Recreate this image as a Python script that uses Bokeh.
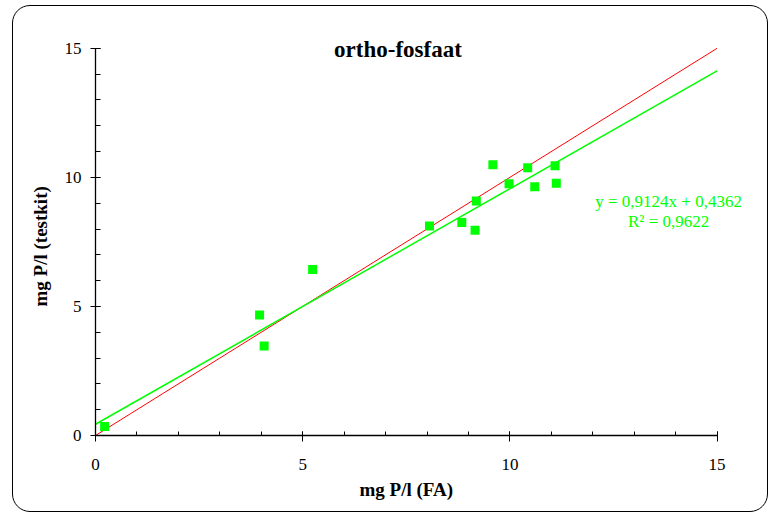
from bokeh.plotting import figure
from bokeh.models import Label, SingleIntervalTicker, Range1d, Title
from bokeh.embed import file_html
from bokeh.resources import INLINE

# data
fa = [0.22, 3.96, 4.07, 5.24, 8.06, 8.84, 9.16, 9.19, 9.59, 9.98, 10.43, 10.60, 11.09, 11.12]
testkit = [0.35, 4.67, 3.47, 6.43, 8.12, 8.25, 7.95, 9.08, 10.49, 9.75, 10.37, 9.64, 10.45, 9.77]
slope = 0.9124
intercept = 0.4362
r2 = 0.9622
line_x = [0, 15]
ideal_y = [0, 15]
fit_y = [intercept + slope * v for v in line_x]
axis_min, axis_max = 0, 15
title_text = "ortho-fosfaat"
x_label = "mg P/l (FA)"
y_label = "mg P/l (testkit)"
eq_text = "y = 0,9124x + 0,4362"
r2_text = "R\u00b2 = 0,9622"

FONT = "Liberation Serif"

# ranges extend slightly past the axes so the labels are not clipped;
# the axes themselves are bounded to 0..15
p = figure(width=756, height=507, output_backend="svg", toolbar_location=None,
           x_range=Range1d(0, 16), y_range=Range1d(0, 16),
           min_border_left=82, min_border_right=11, min_border_top=16, min_border_bottom=78)
p.styles = {"margin-left": "12px", "margin-top": "5px", "border": "1.5px solid black",
            "border-radius": "18px", "overflow": "hidden"}
p.border_fill_color = None
p.background_fill_color = None
p.outline_line_color = None
p.grid.visible = False

p.xaxis.ticker = SingleIntervalTicker(interval=5, num_minor_ticks=5)
p.yaxis.ticker = SingleIntervalTicker(interval=5, num_minor_ticks=5)
p.xaxis.bounds = (axis_min, axis_max)
p.yaxis.bounds = (axis_min, axis_max)

for ax in (p.xaxis[0], p.yaxis[0]):
    ax.axis_line_color = "black"
    ax.axis_line_width = 1.3
    ax.major_tick_line_color = "black"
    ax.minor_tick_line_color = "black"
    ax.major_label_text_font = FONT
    ax.major_label_text_font_size = "17px"
    ax.major_label_text_color = "black"

p.xaxis.major_tick_in = 4
p.xaxis.major_tick_out = 6
p.xaxis.minor_tick_in = 4
p.xaxis.minor_tick_out = 0
p.xaxis.major_label_standoff = 17

p.yaxis.major_tick_in = 5
p.yaxis.major_tick_out = 5
p.yaxis.minor_tick_in = 5
p.yaxis.minor_tick_out = 0
p.yaxis.major_label_standoff = 9

# axis titles as side-panel titles so they can be positioned relative to the 0..15 axes
p.add_layout(Title(text=x_label, align="left", offset=264, standoff=13, vertical_align="top",
                   text_font=FONT, text_font_style="bold", text_font_size="19px",
                   text_color="black"), "below")
p.add_layout(Title(text=y_label, align="left", offset=129, standoff=22,
                   text_font=FONT, text_font_style="bold", text_font_size="19px",
                   text_color="black"), "left")

p.line(line_x, ideal_y, line_color="#ff0000", line_width=1)
p.line(line_x, fit_y, line_color="#00ff00", line_width=1.5)
p.scatter(fa, testkit, marker="square", size=9, fill_color="#00ff00", line_color=None)

p.add_layout(Label(x=7.3, y=14.96, text=title_text,
                   text_align="center", text_baseline="alphabetic",
                   text_font=FONT, text_font_style="bold", text_font_size="23px",
                   text_color="black"))
p.add_layout(Label(x=13.83, y=9.057, text=eq_text,
                   text_align="center", text_baseline="alphabetic",
                   text_font=FONT, text_font_size="17px", text_color="#00ff00"))
p.add_layout(Label(x=13.83, y=8.284, text=r2_text,
                   text_align="center", text_baseline="alphabetic",
                   text_font=FONT, text_font_size="17px", text_color="#00ff00"))

open("out.html", "w").write(file_html(p, INLINE))
